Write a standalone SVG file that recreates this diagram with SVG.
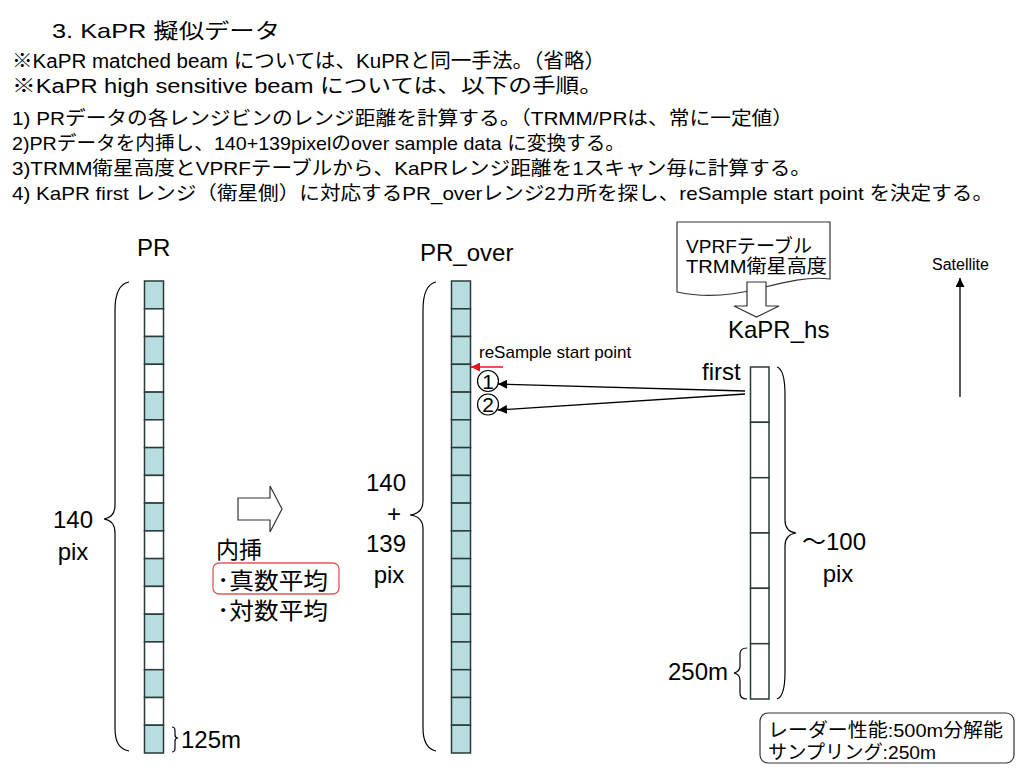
<svg xmlns="http://www.w3.org/2000/svg" width="1024" height="768" viewBox="0 0 1024 768">
<defs>
<style>
text{font-family:"Liberation Sans","Noto Sans CJK JP",sans-serif;fill:#000}
.t19{font-size:19px}
.lbl{font-size:24px}
.teal{fill:#b7dde0;stroke:#2a3a3a;stroke-width:1.5}
.wht{fill:#fff;stroke:#2a3a3a;stroke-width:1.5}
.br{fill:none;stroke:#000;stroke-width:1.2}
.ln{fill:none;stroke:#000;stroke-width:1.3}
</style>
<marker id="ah" viewBox="0 0 10 10" refX="10" refY="5" markerWidth="9" markerHeight="9" markerUnits="userSpaceOnUse" orient="auto"><path d="M0,0 L10,5 L0,10 Z" fill="#000"/></marker>
<marker id="ahr" viewBox="0 0 10 10" refX="10" refY="5" markerWidth="9" markerHeight="9" markerUnits="userSpaceOnUse" orient="auto"><path d="M0,0 L10,5 L0,10 Z" fill="#e8141c"/></marker>
</defs>
<rect width="1024" height="768" fill="#fff"/>

<g id="header">
<text x="52" y="38" font-size="21" textLength="228" lengthAdjust="spacingAndGlyphs">3. KaPR 擬似データ</text>
<text x="12" y="68" font-size="20" textLength="593" lengthAdjust="spacingAndGlyphs">※KaPR matched beam については、KuPRと同一手法。（省略）</text>
<text x="12" y="93" font-size="20" textLength="591" lengthAdjust="spacingAndGlyphs">※KaPR high sensitive beam については、以下の手順。</text>
<text x="12" y="125" class="t19" textLength="781" lengthAdjust="spacingAndGlyphs">1) PRデータの各レンジビンのレンジ距離を計算する。（TRMM/PRは、常に一定値）</text>
<text x="12" y="150" class="t19" textLength="613" lengthAdjust="spacingAndGlyphs">2)PRデータを内挿し、140+139pixelのover sample data に変換する。</text>
<text x="12" y="175" class="t19" textLength="799" lengthAdjust="spacingAndGlyphs">3)TRMM衛星高度とVPRFテーブルから、KaPRレンジ距離を1スキャン毎に計算する。</text>
<text x="12" y="200" class="t19" textLength="981" lengthAdjust="spacingAndGlyphs">4) KaPR first レンジ（衛星側）に対応するPR_overレンジ2カ所を探し、reSample start point を決定する。</text>
</g>

<g id="pr">
<text x="137" y="256" class="lbl" font-size="24.5">PR</text>
<rect class="teal" x="144.5" y="281" width="19" height="27.8"/>
<rect class="wht" x="144.5" y="308.8" width="19" height="27.7"/>
<rect class="teal" x="144.5" y="336.5" width="19" height="27.8"/>
<rect class="wht" x="144.5" y="364.3" width="19" height="27.8"/>
<rect class="teal" x="144.5" y="392.1" width="19" height="27.7"/>
<rect class="wht" x="144.5" y="419.8" width="19" height="27.8"/>
<rect class="teal" x="144.5" y="447.6" width="19" height="27.8"/>
<rect class="wht" x="144.5" y="475.4" width="19" height="27.7"/>
<rect class="teal" x="144.5" y="503.1" width="19" height="27.8"/>
<rect class="wht" x="144.5" y="530.9" width="19" height="27.7"/>
<rect class="teal" x="144.5" y="558.6" width="19" height="27.8"/>
<rect class="wht" x="144.5" y="586.4" width="19" height="27.8"/>
<rect class="teal" x="144.5" y="614.2" width="19" height="27.7"/>
<rect class="wht" x="144.5" y="641.9" width="19" height="27.8"/>
<rect class="teal" x="144.5" y="669.7" width="19" height="27.8"/>
<rect class="wht" x="144.5" y="697.5" width="19" height="27.7"/>
<rect class="teal" x="144.5" y="725.2" width="19" height="27.8"/>
<path class="br" d="M129,282 C119,284 115,295 115,310 V505 C115,513 111,518 104,519 C111,520 115,525 115,533 V728 C115,742 119,749 129,751"/>
<text x="73" y="528" class="lbl" text-anchor="middle">140</text>
<text x="73" y="560" class="lbl" text-anchor="middle">pix</text>
<path class="br" d="M172,727 C175,727 175,729 175,732 V735 C175,737 176,738 178,738 C176,738 175,739 175,741 V747 C175,750 175,752 172,752"/>
<text x="181" y="748" class="lbl">125m</text>
</g>

<g id="interp">
<path d="M238,498 H270 V486 L282,509 L270,532 V520 H238 Z" fill="#fff" stroke="#333" stroke-width="1.2"/>
<text x="216" y="558" font-size="23">内挿</text>
<rect x="213" y="563" width="126" height="31" rx="6" fill="none" stroke="#e05a5a" stroke-width="1.3"/>
<text x="217" y="589" font-size="23" textLength="111" lengthAdjust="spacingAndGlyphs">･真数平均</text>
<text x="217" y="619" font-size="23" textLength="111" lengthAdjust="spacingAndGlyphs">･対数平均</text>
</g>

<g id="pr_over">
<text x="420" y="261" class="lbl" font-size="24.5">PR_over</text>
<rect class="teal" x="451.5" y="281" width="19" height="27.8"/>
<rect class="teal" x="451.5" y="308.8" width="19" height="27.7"/>
<rect class="teal" x="451.5" y="336.5" width="19" height="27.8"/>
<rect class="teal" x="451.5" y="364.3" width="19" height="27.8"/>
<rect class="teal" x="451.5" y="392.1" width="19" height="27.7"/>
<rect class="teal" x="451.5" y="419.8" width="19" height="27.8"/>
<rect class="teal" x="451.5" y="447.6" width="19" height="27.8"/>
<rect class="teal" x="451.5" y="475.4" width="19" height="27.7"/>
<rect class="teal" x="451.5" y="503.1" width="19" height="27.8"/>
<rect class="teal" x="451.5" y="530.9" width="19" height="27.7"/>
<rect class="teal" x="451.5" y="558.6" width="19" height="27.8"/>
<rect class="teal" x="451.5" y="586.4" width="19" height="27.8"/>
<rect class="teal" x="451.5" y="614.2" width="19" height="27.7"/>
<rect class="teal" x="451.5" y="641.9" width="19" height="27.8"/>
<rect class="teal" x="451.5" y="669.7" width="19" height="27.8"/>
<rect class="teal" x="451.5" y="697.5" width="19" height="27.7"/>
<rect class="teal" x="451.5" y="725.2" width="19" height="27.8"/>
<path class="br" d="M436,282 C427,284 423,295 423,310 V501 C423,509 419,514 410,515 C419,516 423,521 423,529 V728 C423,742 427,749 436,751"/>
<text x="386" y="491" class="lbl" text-anchor="middle">140</text>
<text x="394" y="522" class="lbl" text-anchor="middle">+</text>
<text x="386" y="552" class="lbl" text-anchor="middle">139</text>
<text x="389" y="583" class="lbl" text-anchor="middle">pix</text>
<text x="479" y="358" font-size="17">reSample start point</text>
<circle cx="488" cy="381" r="10.5" fill="#fff" stroke="#000" stroke-width="1.2"/>
<text x="488" y="388.5" font-size="21" text-anchor="middle">1</text>
<circle cx="488" cy="404.5" r="10.5" fill="#fff" stroke="#000" stroke-width="1.2"/>
<text x="488" y="412" font-size="21" text-anchor="middle">2</text>
</g>

<g id="vprf">
<path d="M677,222 H830 V279 C808,276 785,282 757,289 C730,296 705,298 677,292 Z" fill="#fff" stroke="#333" stroke-width="1.2"/>
<text x="686" y="253" class="t19" textLength="126" lengthAdjust="spacingAndGlyphs">VPRFテーブル</text>
<text x="686" y="273" class="t19" textLength="141" lengthAdjust="spacingAndGlyphs">TRMM衛星高度</text>
<path d="M747,282 H766 V306 H779 L756.5,317 L734,306 H747 Z" fill="#fff" stroke="#333" stroke-width="1.2"/>
</g>

<g id="kapr_hs">
<text x="728" y="338" class="lbl" font-size="25">KaPR_hs</text>
<text x="702" y="380" class="lbl" font-size="24.5">first</text>
<rect class="wht" x="750.5" y="367" width="18.5" height="55.3"/>
<rect class="wht" x="750.5" y="422.3" width="18.5" height="55.4"/>
<rect class="wht" x="750.5" y="477.7" width="18.5" height="55.3"/>
<rect class="wht" x="750.5" y="533" width="18.5" height="55.3"/>
<rect class="wht" x="750.5" y="588.3" width="18.5" height="55.4"/>
<rect class="wht" x="750.5" y="643.7" width="18.5" height="55.3"/>
<path class="br" d="M777,367 C783,369 785,380 785,395 V520 C785,528 789,532 796,533 C789,534 785,538 785,546 V672 C785,688 783,697 777,699"/>
<text x="834" y="550" class="lbl" text-anchor="middle">～100</text>
<text x="838" y="582" class="lbl" text-anchor="middle">pix</text>
<path class="br" d="M747,648 C742,648 740,650 740,654 V666 C740,670 738,672 734,673 C738,674 740,676 740,680 V693 C740,697 742,699 747,699"/>
<text x="668" y="680" class="lbl" font-size="25">250m</text>
</g>

<g id="satellite">
<text x="932" y="270" font-size="16">Satellite</text>
</g>

<g id="note">
<rect x="760" y="713" width="254" height="50" rx="8" fill="#fff" stroke="#333" stroke-width="1.2"/>
<text x="768" y="737" class="t19" textLength="235" lengthAdjust="spacingAndGlyphs">レーダー性能:500m分解能</text>
<text x="768" y="759" class="t19" textLength="168" lengthAdjust="spacingAndGlyphs">サンプリング:250m</text>
</g>

<g id="connectors">
<line x1="960" y1="397" x2="960" y2="278" class="ln" marker-end="url(#ah)"/>
<line x1="503" y1="367" x2="471" y2="367" stroke="#e8141c" stroke-width="1.5" marker-end="url(#ahr)"/>
<line x1="745" y1="391" x2="498" y2="384" class="ln" marker-end="url(#ah)"/>
<line x1="745" y1="394" x2="498" y2="410" class="ln" marker-end="url(#ah)"/>
</g>
</svg>
